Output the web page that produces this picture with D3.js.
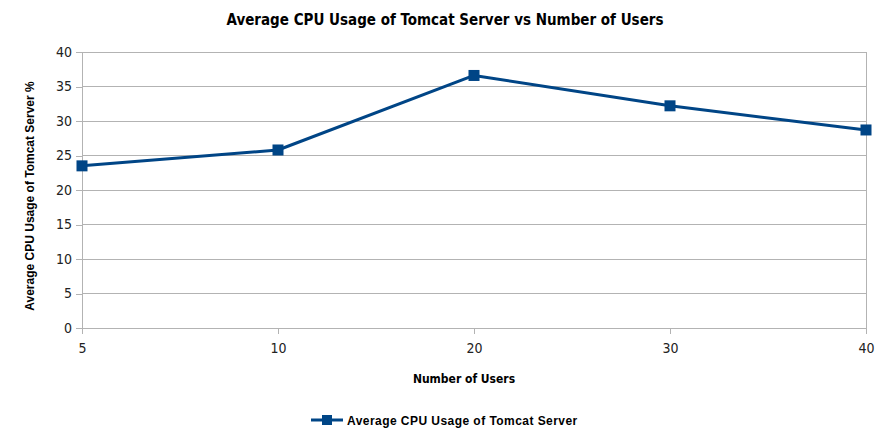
<!DOCTYPE html>
<html><head><meta charset="utf-8">
<script src="https://cdn.jsdelivr.net/npm/d3@7"></script>
<style>body{margin:0;background:#fff}svg{display:block}</style>
</head><body>
<svg id="c" width="890" height="437"></svg>
<script>
const categories = ["5","10","20","30","40"];
const cpuValues = [23.5, 25.8, 36.6, 32.2, 28.7];
const yTicks = [0,5,10,15,20,25,30,35,40];
const seriesName = "Average CPU Usage of Tomcat Server";

const svg = d3.select("#c");
const L = 82, R = 866, T = 52, B = 328;
const color = "#004586";
const narrow = "'Liberation Sans Narrow','DejaVu Sans Condensed',sans-serif";
const sans = "'Liberation Sans',Arial,sans-serif";

const x = d3.scalePoint().domain(categories).range([L, R]);
const y = d3.scaleLinear().domain([0, 40]).range([B, T]);

// gridlines
svg.append("g").selectAll("line").data(yTicks).join("line")
  .attr("x1", L).attr("x2", R).attr("y1", d => y(d)).attr("y2", d => y(d))
  .attr("stroke", "#b3b3b3").attr("stroke-width", 1).attr("shape-rendering","crispEdges");
// right border
svg.append("line").attr("x1", R).attr("x2", R).attr("y1", T).attr("y2", B)
  .attr("stroke", "#b3b3b3").attr("shape-rendering","crispEdges");

const yAxis = svg.append("g").attr("transform", `translate(${L},0)`)
  .call(d3.axisLeft(y).tickValues(yTicks).tickSize(6).tickPadding(4));
const xAxis = svg.append("g").attr("transform", `translate(0,${B})`)
  .call(d3.axisBottom(x).tickSize(6).tickPadding(9));
[yAxis, xAxis].forEach(a => {
  a.selectAll("path,line").attr("stroke", "#b3b3b3").attr("shape-rendering","crispEdges");
  a.selectAll("text").attr("fill", "#222").style("font-family", narrow).style("font-size", "14px");
});

// line
svg.append("path").datum(cpuValues)
  .attr("fill", "none").attr("stroke", color).attr("stroke-width", 3).attr("stroke-linejoin","round")
  .attr("d", d3.line().x((d, i) => x(categories[i])).y(d => y(d)));
svg.append("g").selectAll("rect").data(cpuValues).join("rect")
  .attr("x", (d, i) => x(categories[i]) - 5.5).attr("y", d => y(d) - 5.5)
  .attr("width", 11).attr("height", 11).attr("fill", color);

// title
svg.append("text").attr("x", 445).attr("y", 25).attr("text-anchor", "middle")
  .style("font-family", narrow).style("font-weight", "bold").style("font-size", "15px")
  .text("Average CPU Usage of Tomcat Server vs Number of Users");
// x title
svg.append("text").attr("x", 464).attr("y", 383).attr("text-anchor", "middle")
  .style("font-family", narrow).style("font-weight", "bold").style("font-size", "12px")
  .text("Number of Users");
// y title
svg.append("text").attr("transform", "translate(34,196) rotate(-90)").attr("text-anchor", "middle")
  .style("font-family", sans).style("font-weight", "bold").style("font-size", "12px")
  .text("Average CPU Usage of Tomcat Server %");

// legend
const lg = svg.append("g");
lg.append("line").attr("x1", 311).attr("x2", 343).attr("y1", 420).attr("y2", 420)
  .attr("stroke", color).attr("stroke-width", 3);
lg.append("rect").attr("x", 327 - 5).attr("y", 420 - 5).attr("width", 10).attr("height", 10).attr("fill", color);
lg.append("text").attr("x", 347).attr("y", 424.5)
  .style("font-family", sans).style("font-weight", "bold").style("font-size", "12px")
  .style("letter-spacing", "0.45px")
  .text(seriesName);
</script>
</body></html>
